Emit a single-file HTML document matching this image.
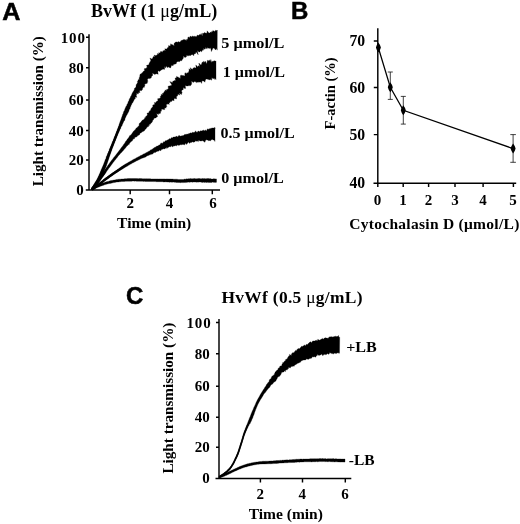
<!DOCTYPE html>
<html><head><meta charset="utf-8"><title>Figure</title>
<style>
html,body{margin:0;padding:0;background:#fff;}
body{width:520px;height:524px;overflow:hidden;}
svg{display:block;}
text{font-family:"Liberation Serif",serif;font-weight:bold;fill:#000;}
.pl{font-family:"Liberation Sans",sans-serif;font-weight:bold;font-size:24px;stroke:#000;stroke-width:0.5px;}
.t{font-size:18px;}
.k{font-size:15px;}
.l{font-size:15.5px;}
.mu{font-weight:normal;}
.ax{stroke:#000;stroke-width:1.45;fill:none;}
</style></head><body>
<svg width="520" height="524" viewBox="0 0 520 524">
<rect width="520" height="524" fill="#fff"/>
<!-- Panel A -->
<text class="pl" transform="translate(2.2,20.3) scale(1.05,1)">A</text>
<text class="t" x="90.9" y="17.2" textLength="126.3" lengthAdjust="spacing">BvWf (1 <tspan class="mu">μ</tspan>g/mL)</text>
<path class="ax" d="M89,34.2V190.6 M85.8,190H220 M86,37.3H89 M86,67.8H89 M86,100H89 M86,130.5H89 M86,160H89 M130.2,190V194.2 M169.5,190V194.2 M212.3,190V194.2"/>
<g class="k" text-anchor="end">
<text x="84.9" y="43" textLength="24.2" lengthAdjust="spacing">100</text>
<text x="83.8" y="73">80</text>
<text x="83.8" y="105">60</text>
<text x="83.8" y="135.5">40</text>
<text x="83.8" y="165">20</text>
<text x="83.8" y="194.5">0</text>
</g>
<g class="k" text-anchor="middle">
<text x="130.2" y="207.7">2</text>
<text x="169.5" y="207.7">4</text>
<text x="213" y="207.7">6</text>
</g>
<text class="l" x="154.2" y="228" text-anchor="middle">Time (min)</text>
<text class="l" transform="translate(42.8,186.2) rotate(-90)" textLength="150" lengthAdjust="spacingAndGlyphs">Light transmission (%)</text>
<g class="k">
<text x="221.3" y="48.4" textLength="63" lengthAdjust="spacingAndGlyphs">5 μmol/L</text>
<text x="222.8" y="77" textLength="62.3" lengthAdjust="spacingAndGlyphs">1 μmol/L</text>
<text x="220.5" y="138.2" textLength="74.2" lengthAdjust="spacingAndGlyphs">0.5 μmol/L</text>
<text x="221.2" y="182.8" textLength="62.6" lengthAdjust="spacingAndGlyphs">0 μmol/L</text>
</g>
<!-- Panel B -->
<text class="pl" x="290.9" y="18.8">B</text>
<path class="ax" d="M377.8,28.3V187 M373.5,183.2H516.2 M373.8,41H377.8 M373.8,87.5H377.8 M373.8,134.6H377.8 M403.2,183.2V187 M428.6,183.2V187 M455,183.2V187 M483.1,183.2V187 M513.4,183.2V187"/>
<g class="k" text-anchor="end" style="font-size:15.7px">
<text x="365.2" y="46">70</text>
<text x="365.2" y="92.7">60</text>
<text x="365.2" y="140.4">50</text>
<text x="365.2" y="188.3">40</text>
</g>
<g class="k" text-anchor="middle">
<text x="377.5" y="205">0</text>
<text x="403" y="205">1</text>
<text x="428.5" y="205">2</text>
<text x="455" y="205">3</text>
<text x="483" y="205">4</text>
<text x="513" y="205">5</text>
</g>
<text class="l" x="349.3" y="229.3" textLength="170" lengthAdjust="spacing">Cytochalasin D (μmol/L)</text>
<text class="l" transform="translate(335,129.4) rotate(-90)" textLength="72" lengthAdjust="spacingAndGlyphs">F-actin (%)</text>
<path d="M378.2,47.2 L390.3,87.2 L403.3,110.3 L513.1,148.6" stroke="#000" stroke-width="1.25" fill="none"/>
<path d="M390.3,72V99.4 M387.8,72H392.8 M387.8,99.4H392.8 M403.3,96.4V124.1 M400.8,96.4H405.8 M400.8,124.1H405.8 M513.1,134.6V162.3 M510.3,134.6H515.9 M510.3,162.3H515.9" stroke="#111" stroke-width="0.8" fill="none"/>
<path d="M378.4,42.6 Q380.3375,45.1 380.9,47.6 Q380.3375,50.1 378.4,52.6 Q376.4625,50.1 375.9,47.6 Q376.4625,45.1 378.4,42.6Z M390.3,82.2 Q392.2375,84.7 392.8,87.2 Q392.2375,89.7 390.3,92.2 Q388.3625,89.7 387.8,87.2 Q388.3625,84.7 390.3,82.2Z M403.3,105.3 Q405.2375,107.8 405.8,110.3 Q405.2375,112.8 403.3,115.3 Q401.3625,112.8 400.8,110.3 Q401.3625,107.8 403.3,105.3Z M513.1,143.6 Q515.0375,146.1 515.6,148.6 Q515.0375,151.1 513.1,153.6 Q511.1625,151.1 510.6,148.6 Q511.1625,146.1 513.1,143.6Z"/>
<!-- Panel C -->
<text class="pl" x="126" y="304">C</text>
<text class="t" style="font-size:17.4px" x="221.5" y="303.4" textLength="141" lengthAdjust="spacing">HvWf (0.5 <tspan class="mu">μ</tspan>g/mL)</text>
<path class="ax" d="M219,319V478.8 M215.5,478.4H351.3 M216,322.5H219 M216,353.8H219 M216,386.3H219 M216,417.3H219 M216,447.3H219 M260.4,478.4V482.5 M302.5,478.4V482.5 M345.3,478.4V482.5"/>
<g class="k" text-anchor="end">
<text x="210.7" y="327.5" textLength="24.2" lengthAdjust="spacing">100</text>
<text x="209.8" y="359">80</text>
<text x="209.8" y="391.3">60</text>
<text x="209.8" y="422.3">40</text>
<text x="209.8" y="452.3">20</text>
<text x="209.8" y="482.8">0</text>
</g>
<g class="k" text-anchor="middle">
<text x="260.2" y="499">2</text>
<text x="302.2" y="499">4</text>
<text x="345" y="499">6</text>
</g>
<text class="l" x="285.8" y="518.6" text-anchor="middle">Time (min)</text>
<text class="l" transform="translate(173.3,473.6) rotate(-90)" textLength="151" lengthAdjust="spacingAndGlyphs">Light transmission (%)</text>
<g class="k">
<text x="346.2" y="352.2" textLength="30.6" lengthAdjust="spacingAndGlyphs">+LB</text>
<text x="348.8" y="464.8" textLength="25.8" lengthAdjust="spacingAndGlyphs">-LB</text>
</g>
<g fill="#000" stroke="#000" stroke-width="0.3" stroke-linejoin="round">
<path d="M91.5,188.0 91.7,187.7 92.1,187.2 92.6,186.3 93.0,185.8 93.3,185.1 93.7,184.6 94.1,184.0 94.5,183.4 94.8,182.8 95.2,182.2 95.6,181.6 96.0,181.0 96.4,180.4 96.8,179.6 97.2,178.9 97.6,178.1 98.0,177.2 98.3,176.6 98.6,176.0 98.9,175.3 99.2,174.6 99.5,173.9 99.8,173.2 100.1,172.5 100.4,171.8 100.6,171.1 101.0,170.4 101.2,169.8 101.4,169.1 101.8,168.5 102.1,167.8 102.3,167.2 102.6,166.5 102.9,165.9 103.1,165.3 103.5,164.7 103.6,163.9 104.0,163.3 104.3,162.5 104.6,161.8 104.8,161.0 105.1,160.2 105.4,159.4 105.9,158.6 106.1,157.9 106.2,157.2 106.4,156.5 106.7,155.9 107.2,155.1 107.5,154.2 107.7,153.3 108.3,152.5 108.5,151.6 109.0,150.8 109.2,149.9 109.5,149.1 109.9,148.3 110.3,147.4 110.6,146.6 110.9,145.8 111.1,145.1 111.5,144.5 111.7,143.8 112.0,143.2 112.2,142.4 112.5,141.8 112.8,141.1 113.1,140.4 113.4,139.7 113.7,138.9 114.0,138.2 114.2,137.5 114.6,136.8 114.9,136.0 115.2,135.3 115.5,134.5 115.8,133.8 116.0,133.0 116.3,132.3 116.6,131.5 116.9,130.8 117.2,130.1 117.4,129.3 117.7,128.6 118.0,127.9 118.2,127.1 118.5,126.4 118.8,125.7 119.0,125.0 119.2,124.2 119.5,123.5 119.7,122.8 120.0,122.1 120.2,121.4 120.5,120.7 120.7,120.1 121.0,119.4 121.2,118.7 121.5,118.1 121.6,117.4 122.0,116.6 122.3,115.7 122.5,114.8 122.9,114.1 123.3,113.3 123.4,112.4 123.7,111.6 124.2,110.9 124.6,110.1 124.8,109.2 125.1,108.4 125.5,107.7 125.8,106.8 126.4,106.1 126.8,105.4 126.9,104.4 127.7,103.8 127.8,102.9 128.2,102.1 128.4,101.3 129.0,100.6 129.1,99.6 129.6,98.9 129.8,98.0 130.5,97.3 130.6,96.4 131.2,95.7 131.6,94.8 131.9,93.9 132.3,93.1 132.7,92.5 132.9,91.8 133.5,91.3 133.9,90.6 134.2,89.9 134.4,89.2 134.5,88.3 135.2,87.8 135.9,87.2 136.0,86.3 136.1,85.5 136.2,84.6 137.0,84.0 137.2,83.1 137.7,82.4 137.4,81.3 138.0,80.7 138.0,79.8 139.4,79.6 139.1,78.5 139.2,77.8 139.5,77.2 139.8,76.5 139.8,75.7 140.0,74.8 140.3,74.0 141.5,73.7 141.7,72.9 142.7,72.6 142.9,71.9 143.4,71.3 144.1,71.0 144.6,70.4 144.3,69.3 144.5,68.6 145.6,68.5 146.3,68.2 146.6,67.6 147.3,67.3 146.5,65.5 147.6,65.1 148.8,64.8 149.2,63.9 149.1,62.9 149.7,62.5 150.2,62.1 150.3,61.3 150.8,60.8 150.5,59.6 149.9,58.0 152.1,59.2 152.2,58.4 152.9,58.0 153.0,57.1 153.4,56.5 154.7,56.9 154.1,55.1 155.4,55.6 156.2,55.4 156.8,55.1 157.5,54.8 157.4,53.5 159.0,54.3 158.6,52.8 159.7,52.9 160.3,52.5 160.5,51.6 161.4,51.6 162.8,52.2 162.7,50.9 163.6,50.9 163.9,50.1 165.4,50.9 164.8,48.8 165.9,49.0 166.8,49.0 167.2,48.2 167.7,47.5 168.5,47.2 168.6,45.5 170.1,46.2 170.5,45.1 170.7,43.8 172.0,44.7 172.8,44.7 174.2,45.9 174.0,43.5 174.7,43.1 175.3,42.3 175.9,41.9 176.9,41.9 177.9,42.2 178.6,41.6 179.8,42.2 180.5,41.6 181.0,40.5 181.9,40.4 182.7,40.1 183.3,39.5 184.3,40.0 184.8,39.2 186.3,40.7 186.5,39.4 187.4,39.6 187.8,38.5 188.0,37.0 188.9,37.2 189.8,37.4 190.1,36.1 191.1,36.8 191.9,36.7 192.4,35.9 193.3,36.5 194.2,36.2 195.1,36.5 196.0,36.4 196.8,36.4 197.3,35.0 198.3,35.6 199.0,34.9 199.7,34.6 200.5,34.8 201.2,33.4 202.3,36.2 202.7,33.1 203.7,33.6 204.4,32.4 205.4,33.0 206.2,33.2 207.0,33.0 207.2,30.8 208.8,33.0 209.8,32.9 210.4,32.1 211.4,32.5 211.7,31.4 212.6,31.8 212.9,30.4 213.7,31.1 214.9,31.4 215.8,30.1 216.6,30.7 217.1,30.0 217.3,30.3 L217.2,50.2 217.1,49.6 216.7,48.6 215.6,50.0 214.7,48.8 213.6,47.9 212.9,48.2 212.2,49.8 211.4,51.6 210.9,49.0 210.2,47.8 209.5,48.4 208.6,48.2 207.5,47.5 207.0,49.1 205.7,47.3 205.3,48.9 204.6,49.3 203.6,48.3 203.4,50.2 202.6,49.8 202.1,51.0 201.5,51.8 200.3,50.8 199.8,51.9 198.9,51.9 197.4,50.6 198.2,54.8 196.0,51.7 195.7,53.2 195.0,54.0 194.0,53.7 193.8,55.7 192.4,54.6 191.5,54.7 190.8,55.4 189.9,55.4 189.1,55.5 188.4,55.8 187.6,55.8 186.6,55.3 186.4,56.8 185.7,57.3 184.9,57.4 183.3,55.9 183.4,58.1 183.0,58.7 182.4,59.2 182.1,60.0 181.7,60.8 180.7,60.6 180.0,61.0 179.5,61.7 178.2,61.4 177.2,61.7 176.5,62.5 176.2,63.8 175.2,64.0 174.3,64.3 173.4,64.5 173.1,65.8 171.7,65.2 171.2,66.0 170.9,67.4 170.1,67.9 168.5,66.8 167.9,67.7 165.9,65.9 166.0,68.1 164.6,66.6 164.7,68.5 164.4,69.5 163.1,69.0 162.1,69.4 161.4,70.1 160.5,70.5 159.9,71.4 158.4,70.8 157.8,71.8 158.2,74.3 156.7,73.7 155.7,74.0 154.8,74.4 152.3,72.9 152.8,75.1 152.2,76.0 151.4,76.6 151.2,77.9 150.4,78.2 149.7,78.6 148.4,78.4 147.6,78.9 147.4,79.8 148.0,81.5 147.1,81.6 147.5,82.9 147.0,83.4 146.0,83.5 145.4,84.0 144.6,84.3 145.0,85.7 144.3,86.1 144.5,87.2 143.4,87.3 142.8,87.9 142.6,88.6 142.5,89.5 141.9,90.0 141.5,90.7 140.1,90.5 139.4,91.0 140.1,92.4 138.8,92.4 138.3,92.9 138.4,93.9 136.3,93.2 136.8,94.5 136.3,95.2 136.3,96.0 136.9,97.3 135.3,97.1 135.2,97.9 135.3,98.8 134.5,99.1 134.2,99.8 134.0,100.5 133.4,101.1 133.1,102.0 132.7,102.8 131.9,103.5 131.8,104.4 131.0,105.0 131.1,106.1 130.5,106.8 130.2,107.6 130.1,108.5 129.5,109.2 129.1,110.0 129.0,110.9 128.6,111.7 128.2,112.5 127.8,113.3 127.3,114.1 127.0,114.9 126.4,115.6 126.0,116.5 125.7,117.4 125.1,117.9 125.1,118.7 124.9,119.4 124.8,120.2 124.3,120.8 123.7,121.4 123.5,122.1 123.2,122.8 122.8,123.5 122.4,124.2 122.3,125.1 121.9,125.8 121.4,126.4 121.0,127.1 120.7,127.9 120.6,128.7 120.1,129.3 119.8,130.1 119.4,130.8 119.2,131.6 118.8,132.3 118.4,133.0 118.1,133.8 117.8,134.5 117.5,135.3 117.2,136.0 116.9,136.7 116.6,137.5 116.3,138.2 116.0,138.9 115.7,139.7 115.5,140.4 115.2,141.1 114.9,141.8 114.7,142.4 114.4,143.1 114.1,143.8 113.9,144.4 113.6,145.1 113.4,145.8 113.1,146.6 112.7,147.4 112.4,148.2 112.1,149.1 111.8,149.9 111.5,150.8 111.2,151.6 110.9,152.5 110.6,153.3 110.3,154.2 110.0,155.1 109.7,155.9 109.4,156.8 109.1,157.7 108.8,158.6 108.5,159.4 108.3,160.2 108.0,161.0 107.7,161.8 107.5,162.5 107.3,163.3 107.0,164.0 106.7,164.6 106.6,165.4 106.2,166.3 105.8,167.2 105.6,167.9 105.2,168.5 105.0,169.2 104.6,169.8 104.3,170.5 104.1,171.2 103.9,172.0 103.1,172.5 103.1,173.4 102.6,174.1 102.1,174.8 101.7,175.6 101.3,176.3 101.0,177.0 100.6,177.6 100.3,178.2 100.1,178.9 99.7,179.5 99.3,180.3 98.8,181.1 98.4,181.8 98.0,182.5 97.5,183.1 97.2,183.8 96.8,184.5 96.4,185.2 96.0,185.9 95.6,186.6 95.1,187.2 94.7,187.9 94.4,188.5 94.1,189.0 93.7,189.7 93.5,190.0Z"/>
<path d="M91.5,188.0 91.7,187.8 92.2,187.2 92.8,186.5 93.2,186.0 93.7,185.5 94.1,184.9 94.6,184.4 95.1,183.8 95.5,183.2 96.0,182.6 96.5,181.9 97.0,181.2 97.5,180.6 98.0,179.8 98.6,179.0 99.0,178.4 99.4,177.8 99.8,177.2 100.2,176.6 100.7,176.0 101.1,175.3 101.6,174.6 102.0,173.9 102.5,173.2 103.0,172.4 103.5,171.6 104.0,170.8 104.5,170.3 104.9,169.6 105.3,169.0 105.8,168.4 106.2,167.7 106.8,167.0 107.2,166.4 107.7,165.7 108.2,165.0 108.8,164.3 109.3,163.5 109.8,162.8 110.3,162.1 110.8,161.4 111.3,160.7 111.8,160.0 112.3,159.4 112.9,158.7 113.4,158.1 113.8,157.4 114.4,156.8 114.9,156.2 115.4,155.5 115.9,154.9 116.3,154.3 116.8,153.7 117.3,153.1 117.8,152.4 118.3,151.8 118.7,151.2 119.2,150.6 119.6,150.0 120.1,149.4 120.5,148.8 121.0,148.2 121.4,147.6 121.9,147.0 122.3,146.4 122.8,145.8 123.3,145.2 123.6,144.6 124.0,144.0 124.5,143.4 124.9,142.8 125.3,142.2 125.6,141.5 126.0,140.9 126.6,140.4 127.0,139.8 127.3,139.1 127.9,138.7 128.3,138.1 128.7,137.4 129.3,136.9 129.3,136.0 129.9,135.6 130.7,135.3 131.0,134.6 131.7,134.2 132.0,133.5 132.4,132.8 132.9,132.3 133.3,131.6 133.7,131.0 134.3,130.5 135.0,130.0 135.4,129.4 135.8,128.7 136.3,128.1 137.0,127.7 137.6,127.1 138.0,126.4 138.8,126.0 139.2,125.3 139.1,124.2 139.4,123.3 140.1,122.9 140.7,122.3 141.2,121.6 141.9,121.1 142.1,120.2 143.4,120.1 143.7,119.3 144.6,118.9 144.6,117.8 145.6,117.5 145.7,116.5 146.5,116.0 147.1,115.4 147.4,114.4 147.1,113.1 148.3,112.9 149.0,112.3 149.2,111.4 149.7,110.8 150.6,110.4 150.8,109.5 151.0,108.7 151.6,108.1 152.0,107.4 152.6,106.9 153.0,106.2 152.7,105.1 153.7,104.8 154.6,104.5 154.7,103.7 154.3,102.6 156.0,102.8 156.0,101.9 156.5,101.4 157.4,101.1 158.0,100.6 157.7,99.5 157.8,98.6 159.2,98.7 159.6,98.1 160.6,97.9 160.1,96.6 160.9,96.2 161.2,95.4 161.1,94.4 162.7,94.7 162.3,93.4 163.4,93.3 163.8,92.4 164.2,91.6 165.3,91.3 164.9,90.0 166.6,90.4 166.6,89.4 167.8,89.2 168.4,88.4 168.2,87.3 168.1,86.2 169.2,86.0 170.1,85.7 171.1,85.5 171.9,85.0 169.8,81.6 172.0,82.4 172.9,82.2 172.8,81.2 173.7,81.1 174.2,80.6 175.2,80.7 175.5,80.0 175.0,78.4 175.6,78.0 176.3,77.9 176.5,76.4 178.3,77.2 180.4,78.4 180.3,76.5 180.5,75.4 181.3,75.2 182.5,75.6 183.3,75.6 184.5,76.0 184.9,75.4 184.8,73.9 185.0,72.7 186.6,73.7 186.9,72.7 188.1,73.1 188.4,72.2 188.8,71.4 189.1,70.6 188.9,68.8 190.6,70.2 190.2,67.7 192.3,69.6 192.8,68.6 193.5,68.0 194.2,67.5 195.5,68.0 196.1,67.4 195.8,64.9 197.8,66.9 198.2,65.7 199.6,66.5 198.8,63.0 200.8,65.0 201.4,64.4 201.8,63.2 202.2,62.0 203.2,62.4 203.5,61.3 204.9,62.6 205.0,61.0 206.9,63.7 207.1,62.0 207.4,60.3 208.5,60.7 209.4,59.9 210.3,61.4 210.8,59.5 211.7,62.4 212.2,61.5 213.2,61.2 214.1,60.9 214.9,60.7 215.4,61.2 215.8,61.0 216.0,60.9 L216.0,79.6 215.8,79.3 215.4,78.6 214.9,79.5 214.0,77.7 213.2,78.9 211.9,77.4 211.6,80.0 211.0,80.2 210.2,78.9 209.6,79.9 208.6,79.6 207.6,79.2 206.9,79.1 206.1,79.0 205.4,79.9 204.9,82.2 203.8,81.1 202.9,81.1 202.0,80.8 201.6,83.4 200.6,81.8 199.9,82.2 198.9,81.8 198.1,82.6 196.9,81.7 196.4,82.7 195.2,81.6 194.3,81.5 193.9,82.3 193.0,82.2 191.5,81.1 191.7,83.2 191.4,84.4 190.9,85.3 190.2,85.8 188.9,85.6 188.0,86.0 186.7,85.9 185.1,85.4 185.5,87.1 185.6,88.4 184.8,88.6 183.2,87.6 183.3,88.9 183.1,89.8 182.2,89.9 181.7,90.4 181.6,91.4 182.2,93.1 181.6,93.5 181.6,94.5 178.9,93.0 180.1,95.1 178.1,94.3 177.6,94.9 177.6,95.9 176.9,96.2 176.3,96.7 176.6,98.0 176.4,98.9 175.1,98.6 174.2,98.6 174.0,99.5 174.1,100.7 172.8,100.3 172.0,100.5 171.7,101.4 170.7,101.6 170.1,101.8 169.9,102.7 168.8,102.7 169.3,104.4 167.8,103.7 167.1,104.6 165.9,104.5 167.0,106.5 165.9,106.7 166.2,108.1 164.9,107.8 164.6,108.5 164.8,109.6 163.6,109.6 161.7,108.9 161.5,109.9 161.4,110.7 161.1,111.4 160.2,111.6 160.7,113.0 160.1,113.6 158.6,113.4 158.5,114.4 156.5,113.6 157.1,115.1 157.6,116.6 157.0,117.0 156.3,117.3 155.8,118.0 154.7,118.1 154.0,118.6 153.6,119.2 153.4,119.9 152.7,120.2 152.5,121.2 152.2,122.1 151.6,122.7 150.8,123.2 150.4,124.2 149.2,124.3 149.4,125.4 148.6,125.6 148.5,126.5 147.7,126.7 147.0,127.0 146.8,127.8 146.3,128.3 146.0,128.9 145.3,129.2 144.7,130.0 144.3,130.9 143.4,131.3 142.5,131.7 141.7,132.1 141.2,132.9 140.1,133.0 139.8,134.0 139.3,134.9 138.4,135.3 137.6,135.7 137.1,136.5 136.2,137.0 135.1,137.2 134.6,137.7 134.5,138.7 133.5,138.7 133.1,139.6 132.4,140.0 132.3,141.0 131.5,141.3 130.9,141.7 130.5,142.3 130.0,142.8 129.4,143.3 129.3,144.3 128.5,144.6 128.0,145.3 127.3,145.7 126.6,146.2 126.3,147.0 125.8,147.6 125.2,148.2 124.7,148.8 124.2,149.4 123.5,149.9 123.2,150.7 122.5,151.2 122.1,151.8 121.5,152.4 121.0,153.0 120.3,153.5 119.9,154.2 119.3,154.8 118.7,155.4 118.2,156.1 117.7,156.7 117.2,157.4 116.7,158.1 116.1,158.7 115.6,159.4 115.0,160.0 114.5,160.8 114.0,161.4 113.5,162.1 112.9,162.8 112.4,163.5 111.9,164.3 111.3,165.0 110.8,165.7 110.4,166.3 109.9,166.9 109.5,167.5 109.0,168.1 108.5,168.7 108.1,169.4 107.6,170.0 107.1,170.8 106.6,171.5 106.0,172.5 105.6,173.0 105.3,173.6 104.9,174.2 104.4,174.7 103.9,175.4 103.6,176.1 103.0,176.7 102.4,177.4 102.0,178.1 101.5,178.8 101.0,179.5 100.5,180.2 100.0,180.9 99.5,181.6 99.0,182.3 98.5,182.9 98.0,183.6 97.5,184.3 97.1,184.9 96.6,185.6 96.1,186.2 95.7,186.9 95.2,187.5 94.8,188.1 94.2,189.1 93.7,189.7 93.5,190.0Z"/>
<path d="M91.5,188.0 91.9,187.8 92.6,187.3 93.2,186.9 93.8,186.6 94.5,186.1 95.3,185.6 95.9,185.2 96.5,184.8 97.1,184.4 97.7,184.0 98.4,183.5 99.0,183.0 99.7,182.5 100.5,181.9 101.2,181.3 101.8,180.9 102.4,180.4 103.0,179.9 103.6,179.4 104.2,179.0 104.8,178.5 105.4,178.1 106.0,177.6 106.6,177.2 107.2,176.7 107.8,176.3 108.4,175.8 109.0,175.4 109.6,175.0 110.2,174.5 110.8,174.1 111.4,173.7 112.0,173.2 112.6,172.8 113.2,172.4 113.8,172.0 114.4,171.6 115.0,171.2 115.6,170.7 116.2,170.3 116.8,169.9 117.4,169.5 118.0,169.1 118.6,168.7 119.2,168.2 119.8,167.8 120.4,167.4 121.0,167.0 121.6,166.6 122.2,166.2 122.8,165.7 123.5,165.3 124.1,164.9 124.8,164.5 125.4,164.1 126.1,163.7 126.8,163.3 127.5,162.9 128.1,162.5 128.9,162.1 129.6,161.7 130.3,161.2 131.0,160.9 131.8,160.5 132.5,160.0 133.2,159.5 134.0,159.2 134.8,158.8 135.5,158.4 136.2,157.9 137.0,157.5 137.7,157.2 138.4,156.8 139.2,156.4 139.9,156.0 140.6,155.6 141.4,155.3 142.1,154.9 142.8,154.4 143.5,154.0 144.3,153.8 145.0,153.4 145.7,153.0 146.3,152.6 147.0,152.4 147.6,151.9 148.2,151.5 149.1,151.2 149.8,150.7 150.5,150.0 151.3,149.8 151.9,149.4 152.6,149.0 153.2,148.6 153.7,148.0 154.3,147.6 155.0,147.4 155.6,147.1 156.2,146.7 156.7,146.0 157.5,146.0 158.3,145.9 158.7,145.1 159.6,145.1 160.1,144.5 160.6,143.8 160.9,142.9 162.0,143.2 162.9,143.3 163.2,142.4 163.5,141.7 164.7,141.9 165.2,140.8 166.0,140.7 166.9,140.6 167.4,139.9 168.1,139.7 168.9,139.2 169.7,138.6 170.6,138.9 171.2,138.1 171.7,137.4 172.7,137.9 173.1,137.0 173.9,137.1 174.6,136.9 175.5,137.1 176.1,136.1 177.2,136.8 178.0,136.7 178.5,135.7 179.3,135.5 180.4,136.2 181.1,135.8 182.0,136.1 182.7,135.6 183.5,135.6 184.2,135.1 184.8,134.3 185.7,134.5 186.5,134.3 187.3,134.1 188.1,134.3 188.7,133.4 189.6,133.5 190.2,132.8 191.1,133.2 191.9,132.8 192.6,132.3 193.4,132.6 194.2,132.3 195.0,132.3 195.5,130.8 196.6,132.3 197.4,132.2 198.0,131.1 198.9,131.3 199.8,131.8 200.4,130.7 201.2,131.1 202.0,130.7 202.8,130.6 203.3,129.9 204.2,130.7 204.9,130.4 205.5,130.0 206.6,131.0 207.1,129.6 207.7,128.8 208.6,129.4 209.1,128.5 210.0,129.2 210.6,128.3 211.5,128.2 212.2,128.0 212.9,127.9 213.9,128.0 214.5,127.8 214.6,127.2 214.9,128.9 214.9,128.1 215.0,127.8 L215.0,141.4 214.9,141.4 214.6,140.4 214.3,140.3 213.8,140.0 213.0,140.1 212.2,139.3 210.9,140.3 210.2,140.9 209.5,140.4 208.7,140.7 207.7,139.9 207.0,140.3 206.2,139.5 205.5,140.6 204.9,142.3 203.9,141.5 202.9,140.8 202.0,140.7 201.3,141.0 200.5,141.0 199.6,140.8 198.7,140.3 198.2,141.7 197.2,140.8 196.5,141.3 195.6,140.8 195.0,141.7 194.2,142.0 193.5,142.3 192.6,141.8 191.9,142.3 191.1,142.4 190.3,142.4 189.6,143.4 188.6,142.1 187.9,142.8 187.3,143.6 186.6,144.5 185.6,143.1 185.0,144.6 184.3,144.8 183.4,144.4 182.6,144.4 181.8,144.5 181.1,145.1 180.2,144.5 179.5,145.2 178.8,145.5 177.8,144.8 177.1,145.5 176.4,145.8 175.5,145.5 174.7,145.9 173.8,145.7 173.1,146.6 172.2,146.8 171.0,145.4 170.7,146.9 169.7,146.5 169.0,147.3 168.0,147.1 167.7,148.2 166.7,147.3 166.3,148.5 165.3,148.0 164.8,149.0 163.7,148.7 162.8,149.1 162.0,149.5 161.2,149.5 160.9,150.9 159.9,150.1 159.3,150.6 158.7,151.0 158.1,151.3 157.3,151.2 156.7,151.4 156.2,152.0 155.3,152.4 154.2,152.5 153.4,153.1 152.7,153.9 152.0,154.2 151.2,154.2 150.6,154.6 149.7,154.8 149.0,155.3 148.2,155.5 147.5,155.7 146.9,156.1 146.3,156.4 145.7,156.9 145.0,157.2 144.3,157.4 143.6,157.7 142.8,157.9 142.1,158.3 141.4,158.5 140.7,158.8 140.1,159.2 139.4,159.6 138.7,159.8 138.1,160.2 137.4,160.5 136.8,160.8 136.1,161.1 135.5,161.5 134.8,161.7 134.3,162.2 133.6,162.5 133.0,162.8 132.4,163.1 131.7,163.6 131.0,164.0 130.2,164.3 129.6,164.8 128.9,165.1 128.3,165.5 127.5,166.1 126.6,166.5 125.9,166.9 125.2,167.3 124.4,167.8 123.7,168.2 122.9,168.7 122.2,169.2 121.4,169.6 120.7,170.1 119.9,170.6 119.1,171.1 118.5,171.5 117.9,171.9 117.4,172.3 116.7,172.7 116.0,173.1 115.4,173.6 114.7,174.1 113.9,174.6 113.2,175.1 112.6,175.5 112.0,175.9 111.4,176.3 110.8,176.7 110.2,177.1 109.6,177.6 109.0,178.0 108.4,178.4 107.8,178.9 107.2,179.3 106.6,179.7 106.0,180.2 105.4,180.6 104.8,181.1 104.2,181.5 103.6,182.0 103.0,182.4 102.4,182.9 101.8,183.4 101.2,183.8 100.5,184.4 99.8,184.9 99.1,185.4 98.5,185.9 97.9,186.3 97.3,186.8 96.6,187.3 95.9,187.9 95.3,188.3 94.7,188.7 93.9,189.4 93.3,189.8 93.0,190.0Z"/>
<path d="M92.0,187.9 92.5,187.7 93.5,187.2 94.2,186.8 95.0,186.5 95.6,186.1 96.3,185.8 96.9,185.5 97.6,185.2 98.2,184.9 98.9,184.6 99.5,184.3 100.2,184.1 100.8,183.8 101.4,183.6 102.0,183.3 102.7,183.1 103.6,182.8 104.5,182.4 105.5,182.1 106.4,181.8 107.3,181.6 108.3,181.4 109.2,181.1 110.1,180.8 111.0,180.6 112.0,180.4 112.9,180.3 113.9,180.1 114.8,179.9 115.7,179.8 116.6,179.6 117.6,179.4 118.5,179.3 119.4,179.2 120.3,179.2 121.2,179.1 122.1,179.0 122.9,179.0 123.7,178.9 124.5,178.8 125.3,178.7 126.1,178.7 126.9,178.7 127.6,178.6 128.4,178.6 129.2,178.5 130.1,178.5 130.9,178.5 131.7,178.6 132.5,178.5 133.3,178.5 134.0,178.5 134.7,178.5 135.6,178.5 136.5,178.6 137.4,178.6 138.2,178.7 139.0,178.6 139.8,178.5 140.6,178.6 141.4,178.6 142.1,178.7 142.9,178.7 143.6,178.8 144.4,178.7 145.1,178.8 145.9,178.8 146.6,178.7 147.4,178.8 148.1,178.8 148.9,178.8 149.6,178.8 150.4,178.8 151.1,178.9 151.9,179.0 152.6,178.9 153.4,178.9 154.1,178.9 154.9,178.9 155.6,178.9 156.4,178.9 157.1,178.9 157.9,178.9 158.6,179.0 159.4,178.9 160.2,178.9 161.1,178.9 162.0,179.0 162.8,178.9 163.6,178.9 164.4,178.9 165.2,179.0 165.9,179.1 166.6,178.9 167.3,178.9 168.0,179.0 168.8,179.0 169.6,179.0 170.4,179.0 171.3,179.1 172.0,179.1 172.8,179.1 173.5,179.2 174.2,179.3 174.8,179.2 175.5,179.2 176.4,179.2 177.3,179.3 178.0,179.4 178.7,179.6 179.5,179.6 180.3,179.5 181.1,179.4 181.9,179.5 182.8,179.5 183.6,179.4 184.5,179.1 185.4,179.2 186.1,179.1 186.7,178.8 187.4,178.9 188.2,178.8 189.0,178.7 189.8,178.7 190.7,178.5 191.6,178.8 192.5,178.7 193.2,178.7 194.0,178.5 194.7,178.6 195.5,178.7 196.3,178.7 197.1,178.8 198.0,178.6 198.8,178.6 199.7,178.5 200.6,178.7 201.5,178.7 202.3,178.5 203.1,178.5 203.9,178.7 204.7,178.5 205.4,178.7 206.2,178.7 207.0,178.6 207.8,178.6 208.7,178.6 209.5,178.7 210.3,178.6 211.1,178.9 211.9,179.0 212.6,179.1 213.4,178.7 214.1,178.9 214.8,178.7 215.5,178.9 216.5,178.9 L216.5,182.3 215.5,182.4 214.8,182.3 214.1,182.5 213.4,182.3 212.6,182.1 211.9,182.5 211.1,182.4 210.3,182.4 209.5,182.4 208.7,182.6 207.8,182.3 207.0,182.4 206.2,182.4 205.4,182.2 204.6,182.4 203.9,182.2 203.1,182.2 202.3,182.4 201.5,182.2 200.6,182.1 199.7,182.0 198.8,182.1 198.0,182.2 197.1,182.0 196.3,182.2 195.5,182.0 194.7,182.1 194.0,182.0 193.2,182.1 192.5,182.2 191.6,182.1 190.7,182.1 189.8,182.2 189.0,182.2 188.2,182.1 187.4,182.3 186.8,182.4 186.1,182.3 185.4,182.6 184.5,182.4 183.6,182.6 182.8,182.6 181.9,182.6 181.1,182.5 180.3,182.7 179.5,182.5 178.8,182.5 178.0,182.5 177.3,182.4 176.4,182.5 175.5,182.3 174.8,182.2 174.2,182.2 173.5,182.0 172.7,182.2 172.0,182.1 171.2,182.2 170.4,182.0 169.6,182.2 168.7,182.1 168.0,182.1 167.3,182.0 166.6,181.9 165.9,181.8 165.2,181.9 164.4,181.9 163.6,182.0 162.8,181.7 162.0,181.7 161.1,181.7 160.2,181.7 159.4,181.7 158.6,181.7 157.9,181.7 157.1,181.7 156.4,181.7 155.6,181.6 154.9,181.6 154.1,181.5 153.4,181.6 152.6,181.5 151.9,181.4 151.1,181.6 150.4,181.5 149.6,181.5 148.9,181.4 148.1,181.5 147.4,181.4 146.6,181.4 145.9,181.4 145.1,181.4 144.4,181.3 143.6,181.4 142.9,181.3 142.1,181.3 141.4,181.3 140.6,181.3 139.8,181.3 139.0,181.2 138.2,181.2 137.4,181.2 136.5,181.2 135.6,181.1 134.7,181.2 134.0,181.1 133.3,181.1 132.5,181.1 131.7,181.2 130.9,181.2 130.1,181.2 129.2,181.2 128.5,181.2 127.6,181.2 126.9,181.2 126.1,181.3 125.3,181.3 124.5,181.4 123.7,181.4 122.9,181.4 122.0,181.5 121.2,181.6 120.3,181.7 119.4,181.8 118.5,181.9 117.6,182.0 116.6,182.1 115.7,182.3 114.8,182.4 113.9,182.6 112.9,182.8 112.0,183.0 111.1,183.2 110.1,183.4 109.2,183.6 108.2,183.8 107.3,184.0 106.4,184.3 105.5,184.6 104.5,184.8 103.6,185.2 102.7,185.4 102.0,185.7 101.4,185.9 100.8,186.1 100.2,186.4 99.5,186.7 98.9,186.9 98.2,187.2 97.6,187.5 96.9,187.8 96.3,188.1 95.6,188.4 95.0,188.7 94.2,189.0 93.5,189.4 92.5,189.9 92.0,190.1Z"/>
<path d="M219.4,476.0 219.6,475.9 220.0,475.6 220.6,475.2 221.3,474.7 222.1,474.2 222.8,473.7 223.6,473.2 224.3,472.6 225.0,472.1 225.7,471.5 226.4,471.0 227.0,470.4 227.7,469.8 228.3,469.1 229.0,468.5 229.6,467.8 230.3,467.0 230.9,466.1 231.6,465.1 231.9,464.5 232.2,464.0 232.5,463.4 232.9,462.9 233.2,462.3 233.5,461.7 233.8,461.1 234.1,460.5 234.4,459.9 234.6,459.3 234.9,458.7 235.2,458.0 235.5,457.4 235.8,456.7 236.2,456.0 236.5,455.3 236.8,454.5 237.1,453.8 237.4,453.0 237.8,452.1 238.1,451.3 238.4,450.4 238.7,449.5 239.0,448.5 239.2,447.9 239.4,447.2 239.6,446.6 239.9,445.6 240.2,444.7 240.4,443.8 240.7,443.0 241.0,442.2 241.2,441.4 241.4,440.7 241.7,439.9 241.9,439.2 242.1,438.5 242.3,437.9 242.5,437.2 242.7,436.5 242.9,435.9 243.1,435.3 243.2,434.7 243.5,433.9 243.7,433.2 244.0,432.3 244.3,431.4 244.6,430.7 244.9,430.0 245.1,429.2 245.4,428.4 245.8,427.6 246.1,426.8 246.4,426.1 246.7,425.3 247.0,424.6 247.2,423.9 247.5,423.2 247.8,422.5 248.0,421.8 248.3,421.2 248.5,420.6 248.9,419.7 249.2,418.8 249.4,418.2 249.7,417.6 250.0,417.0 250.3,416.3 250.5,415.6 250.8,414.9 251.0,414.2 251.3,413.5 251.6,412.8 252.0,412.0 252.2,411.3 252.6,410.5 252.9,409.8 253.4,409.1 253.5,408.3 253.8,407.6 254.1,406.9 254.5,406.3 254.8,405.6 255.1,404.9 255.4,404.2 255.7,403.6 255.9,402.9 256.2,402.3 256.6,401.6 256.9,400.9 257.2,400.2 257.6,399.5 258.0,398.8 258.4,398.1 258.8,397.4 259.3,396.6 259.6,395.9 260.1,395.1 260.5,394.3 261.0,393.5 261.5,392.8 261.9,392.0 262.4,391.2 262.9,390.4 263.4,389.6 264.0,388.9 264.3,388.2 264.7,387.6 265.1,387.0 265.5,386.4 265.9,385.9 266.2,385.2 266.6,384.6 266.9,383.9 267.5,383.5 267.9,382.8 268.4,382.2 268.9,381.7 269.3,381.0 269.2,380.0 269.8,379.5 270.4,378.9 271.1,378.5 271.3,377.7 271.5,376.9 272.1,376.3 272.7,375.7 273.4,375.2 274.3,374.9 274.3,373.8 274.9,373.3 275.0,372.3 275.6,371.8 276.1,371.2 276.6,370.5 277.4,370.1 278.0,369.6 278.1,368.7 278.5,368.0 279.4,367.7 279.6,366.9 279.9,366.2 280.8,365.9 281.8,365.7 281.9,364.8 282.1,363.9 282.8,363.6 282.7,362.5 283.7,362.4 284.3,361.9 284.4,361.0 285.5,360.9 285.4,359.8 286.1,359.5 286.6,359.0 287.3,358.6 287.7,358.0 287.9,357.1 288.5,356.7 288.7,355.9 289.6,355.7 289.4,354.4 291.4,355.4 291.4,354.0 292.0,353.4 292.5,352.7 293.7,352.7 294.3,352.2 294.7,351.5 295.4,351.1 295.7,350.3 296.8,350.7 296.9,349.6 297.5,349.2 298.2,348.6 299.5,348.8 300.0,348.1 300.7,347.6 301.1,346.8 301.7,346.3 302.5,346.4 303.1,346.0 303.8,345.7 304.3,344.9 305.9,345.8 306.2,344.3 307.3,344.7 307.8,343.9 308.4,343.5 309.0,342.8 309.8,342.3 310.5,341.7 311.8,342.8 312.2,341.4 313.0,341.0 313.8,340.9 314.7,340.9 315.5,340.5 316.2,340.2 317.3,340.9 317.7,339.4 318.7,339.8 319.6,340.2 320.4,339.8 321.0,339.2 321.8,338.9 322.5,338.4 323.5,339.2 324.1,338.2 324.8,338.1 325.5,337.7 326.4,338.1 327.2,338.1 328.0,338.5 328.6,337.8 329.2,336.7 329.9,337.3 330.5,336.7 331.2,336.8 332.1,336.8 333.0,337.2 333.9,336.4 334.7,336.6 335.5,336.2 336.2,336.6 337.4,336.5 338.5,335.5 338.9,337.0 339.1,337.4 339.4,337.1 339.5,337.4 339.7,337.2 L339.5,353.4 339.1,352.3 338.4,353.3 337.2,352.8 336.5,353.4 335.7,353.6 334.9,353.0 334.0,353.6 333.1,354.1 332.0,353.3 331.3,353.6 330.6,353.1 329.8,352.4 329.1,354.1 328.3,354.2 327.4,353.6 326.7,354.3 325.9,354.8 325.0,354.3 324.2,354.5 323.5,354.8 322.8,355.8 321.7,354.0 321.0,354.7 320.2,355.0 319.5,355.3 318.7,355.4 317.6,354.2 317.1,355.8 316.2,355.8 315.8,357.2 314.8,356.7 314.0,356.8 313.2,357.0 312.2,356.8 311.7,358.0 311.0,358.4 310.0,358.3 309.3,358.7 308.6,359.3 307.8,359.3 306.8,358.8 306.2,359.2 305.5,360.0 304.4,359.9 303.6,360.0 302.8,360.3 302.2,360.5 301.6,360.7 301.1,361.2 300.6,361.7 300.1,362.6 299.3,362.6 298.6,363.1 297.7,363.2 296.9,363.7 296.2,364.4 295.4,364.7 294.6,365.1 294.2,366.3 293.0,365.9 292.4,366.5 291.3,366.5 290.7,367.1 290.3,368.0 288.6,367.2 288.5,368.6 287.5,368.9 287.2,370.1 286.1,369.8 285.5,370.3 285.6,371.5 284.1,370.8 284.0,371.9 283.1,372.0 282.3,372.2 281.5,372.5 281.3,373.5 280.9,374.2 280.6,375.0 280.0,375.5 279.6,376.3 278.5,376.4 278.1,377.2 277.2,377.5 277.2,378.6 276.7,379.3 276.2,380.1 275.9,381.0 275.1,381.4 274.3,382.0 273.7,382.6 273.0,383.2 272.6,384.1 271.7,384.4 270.8,384.9 270.5,385.9 270.0,386.6 269.5,387.4 268.8,388.1 268.1,388.7 267.6,389.5 266.9,390.0 266.5,390.9 265.9,391.6 265.4,392.4 264.6,392.9 264.2,393.7 263.6,394.4 263.2,395.3 262.8,396.0 262.3,396.8 261.9,397.5 261.4,398.2 261.0,398.9 260.5,399.6 260.1,400.3 259.8,401.0 259.4,401.6 259.0,402.3 258.7,402.9 258.3,403.6 258.0,404.2 257.6,405.0 257.3,405.7 257.0,406.5 256.6,407.3 256.3,408.2 255.9,409.0 255.6,409.8 255.4,410.5 255.1,411.2 254.8,411.9 254.5,412.7 254.3,413.6 254.0,414.4 253.7,415.2 253.3,415.9 253.1,416.6 252.9,417.4 252.6,418.1 252.3,418.7 252.0,419.3 251.7,420.0 251.5,420.7 251.1,421.4 250.7,422.1 250.4,422.9 250.1,423.6 249.6,424.1 249.1,424.7 248.9,425.5 248.5,426.1 248.1,426.8 247.8,427.5 247.4,428.2 247.1,428.9 246.7,429.7 246.4,430.4 246.1,431.2 245.8,432.0 245.4,432.8 245.1,433.6 244.9,434.2 244.6,434.9 244.3,435.6 244.0,436.5 243.7,437.4 243.5,438.2 243.2,438.9 243.1,439.5 242.9,440.1 242.7,440.7 242.5,441.3 242.3,442.0 242.1,442.7 241.9,443.3 241.7,444.0 241.4,444.7 241.2,445.5 241.0,446.2 240.7,447.0 240.4,447.8 240.2,448.7 239.9,449.5 239.6,450.4 239.3,451.4 239.0,452.3 238.7,453.2 238.4,454.0 238.1,454.8 237.8,455.6 237.4,456.4 237.1,457.1 236.8,457.8 236.5,458.5 236.2,459.1 235.8,459.8 235.5,460.4 235.2,461.0 234.9,461.5 234.6,462.1 234.4,462.7 234.1,463.2 233.8,463.7 233.5,464.3 233.2,464.8 232.9,465.3 232.5,465.8 232.2,466.4 231.9,466.9 231.6,467.4 230.9,468.3 230.3,469.2 229.6,469.9 229.0,470.6 228.3,471.3 227.7,471.9 227.0,472.5 226.4,473.1 225.7,473.7 225.0,474.2 224.3,474.7 223.6,475.2 222.8,475.8 222.1,476.3 221.3,476.8 220.6,477.3 220.0,477.6 219.6,477.9 219.4,478.0Z"/>
<path d="M219.4,475.8 219.9,475.6 220.9,475.2 221.6,474.9 222.3,474.6 223.0,474.3 223.6,474.1 224.3,473.8 224.9,473.5 225.6,473.2 226.3,472.9 226.9,472.6 227.6,472.3 228.3,472.0 229.0,471.6 229.7,471.3 230.4,471.0 231.1,470.6 231.8,470.2 232.5,469.9 233.2,469.5 233.9,469.2 234.6,468.9 235.4,468.5 236.1,468.2 236.8,467.9 237.5,467.5 238.2,467.3 238.9,466.9 239.6,466.6 240.4,466.3 241.1,466.0 241.8,465.8 242.5,465.5 243.2,465.2 243.9,465.0 244.7,464.8 245.4,464.5 246.1,464.3 246.8,464.1 247.5,463.8 248.2,463.7 249.0,463.5 249.7,463.3 250.4,463.2 251.1,463.0 251.8,462.8 252.5,462.7 253.3,462.5 254.0,462.4 254.7,462.3 255.4,462.2 256.1,462.1 256.8,462.0 257.6,461.9 258.3,461.8 259.0,461.7 259.7,461.6 260.4,461.6 261.1,461.5 261.8,461.4 262.6,461.3 263.3,461.2 264.0,461.3 264.7,461.3 265.4,461.2 266.1,461.2 266.8,461.2 267.6,461.2 268.3,461.2 269.0,461.1 269.8,461.1 270.6,461.0 271.3,460.9 272.1,461.0 273.0,461.0 273.7,460.8 274.6,460.8 275.4,460.7 276.3,460.6 277.1,460.6 277.9,460.5 278.7,460.5 279.6,460.4 280.4,460.3 281.2,460.4 282.0,460.3 282.9,460.1 283.7,460.2 284.5,460.1 285.3,459.9 286.2,459.9 287.0,459.8 287.8,459.9 288.6,460.0 289.4,459.7 290.3,459.8 291.1,459.7 291.9,459.7 292.7,459.6 293.6,459.5 294.4,459.4 295.2,459.4 296.0,459.3 296.8,459.2 297.7,459.3 298.5,459.2 299.3,459.2 300.1,459.1 300.9,459.0 301.8,459.1 302.6,459.2 303.4,459.0 304.2,459.1 305.1,459.1 305.9,459.0 306.7,459.0 307.5,459.0 308.3,459.0 309.2,459.0 310.0,458.7 310.8,458.8 311.6,458.8 312.4,458.8 313.3,458.8 314.1,458.8 314.9,458.7 315.7,458.8 316.6,458.8 317.4,458.7 318.2,458.7 318.9,458.7 319.7,458.6 320.5,458.6 321.3,458.7 322.1,458.6 322.9,458.6 323.6,458.7 324.4,458.7 325.1,458.5 325.9,458.8 326.6,458.9 327.4,458.8 328.1,458.7 329.0,458.7 329.8,458.8 330.6,458.7 331.5,458.8 332.3,458.8 333.1,458.6 333.9,458.8 334.7,458.9 335.5,458.8 336.3,458.8 337.1,458.9 337.9,459.0 338.8,458.9 339.7,458.9 340.5,458.9 341.4,459.1 342.2,459.1 343.0,459.0 343.8,459.1 345.0,459.0 L345.0,462.1 343.8,462.1 343.0,462.0 342.2,462.0 341.4,462.0 340.5,462.1 339.7,462.0 338.8,461.9 337.9,461.9 337.1,461.8 336.3,461.8 335.5,461.8 334.7,461.9 333.9,461.8 333.1,461.8 332.3,461.8 331.5,461.7 330.6,461.7 329.8,461.6 329.0,461.6 328.1,461.7 327.4,461.7 326.6,461.6 325.9,461.7 325.1,461.6 324.4,461.6 323.6,461.4 322.9,461.6 322.1,461.6 321.3,461.6 320.5,461.4 319.7,461.6 318.9,461.6 318.2,461.7 317.4,461.8 316.6,461.6 315.7,461.7 314.9,461.8 314.1,461.7 313.3,461.7 312.4,461.8 311.6,461.9 310.8,461.8 310.0,461.8 309.2,461.8 308.3,461.8 307.5,461.8 306.7,461.8 305.9,461.8 305.1,461.8 304.2,461.8 303.4,461.9 302.6,461.9 301.8,462.0 300.9,461.9 300.1,462.1 299.3,462.2 298.5,462.1 297.7,462.1 296.8,462.2 296.0,462.3 295.2,462.3 294.4,462.5 293.6,462.4 292.7,462.4 291.9,462.5 291.1,462.5 290.3,462.6 289.4,462.6 288.6,462.6 287.8,462.7 287.0,462.7 286.2,462.8 285.3,462.8 284.5,462.8 283.7,462.9 282.9,462.9 282.0,463.0 281.2,463.1 280.4,463.1 279.6,463.1 278.7,463.2 277.9,463.3 277.1,463.4 276.3,463.4 275.4,463.4 274.6,463.4 273.8,463.6 272.9,463.6 272.1,463.7 271.3,463.7 270.6,463.8 269.8,463.7 269.0,463.8 268.3,463.8 267.6,463.8 266.8,463.9 266.1,463.8 265.4,463.9 264.7,463.9 264.0,463.9 263.3,463.9 262.6,463.9 261.8,464.0 261.1,464.0 260.4,464.1 259.7,464.1 259.0,464.2 258.3,464.3 257.5,464.3 256.8,464.5 256.1,464.6 255.4,464.7 254.7,464.8 254.0,464.9 253.3,465.1 252.5,465.2 251.8,465.4 251.1,465.6 250.4,465.7 249.7,465.9 249.0,466.1 248.2,466.2 247.5,466.4 246.8,466.7 246.1,466.9 245.4,467.1 244.7,467.3 243.9,467.5 243.2,467.8 242.5,468.0 241.8,468.3 241.1,468.6 240.4,468.9 239.6,469.1 238.9,469.4 238.2,469.7 237.5,470.0 236.8,470.4 236.1,470.7 235.4,471.0 234.6,471.3 233.9,471.7 233.2,472.0 232.5,472.3 231.8,472.7 231.1,473.1 230.4,473.4 229.7,473.7 229.0,474.1 228.3,474.4 227.6,474.7 226.9,475.0 226.3,475.4 225.6,475.6 224.9,475.9 224.3,476.2 223.6,476.5 223.0,476.7 222.3,477.0 221.6,477.3 220.9,477.6 219.9,478.0 219.4,478.2Z"/>
<path d="M92.5,189.0 92.7,188.7 93.1,188.1 93.7,187.1 94.5,185.9 95.3,184.6 96.0,183.3 96.8,182.0 97.6,180.7 98.4,179.2 99.4,177.4 100.3,175.5 101.4,173.3 102.4,171.2 103.3,169.1 104.1,167.2 104.8,165.3 105.6,163.2 106.4,161.0 107.3,158.6 108.2,155.9 109.2,153.3 110.2,150.8 111.1,148.2 112.1,145.8 113.2,143.1 114.3,140.4 115.4,137.5 116.6,134.5 117.8,131.5 119.0,128.6 120.2,125.7 121.4,122.8 122.6,120.0 123.7,117.4 124.7,114.9 125.7,112.4 126.7,110.0 127.8,107.6 128.9,105.2 130.0,102.8 130.9,101.0 131.5,99.8 131.8,99.2" fill="none" stroke-width="2.2" stroke-linecap="round"/>
<path d="M92.5,189.0 92.7,188.7 93.2,188.2 93.8,187.3 94.7,186.2 95.6,185.0 96.5,183.8 97.5,182.4 98.5,181.1 99.5,179.6 100.7,178.0 101.8,176.4 103.0,174.6 103.9,173.3 104.5,172.4 104.8,172.0" fill="none" stroke-width="2.2" stroke-linecap="round"/>
<path d="M92.2,189.0 92.6,188.8 93.3,188.3 94.3,187.6 95.6,186.8 97.2,185.6 99.1,184.2 101.2,182.6 103.6,180.7 106.0,178.9 108.4,177.1 110.8,175.4 113.2,173.7 115.5,172.2 117.7,170.7 119.8,169.3 121.8,167.9 123.3,166.9 124.3,166.3 124.8,165.9" fill="none" stroke-width="2.1" stroke-linecap="round"/>
<path d="M219.4,477.0 219.6,476.9 220.0,476.6 220.6,476.2 221.3,475.8 222.1,475.2 222.8,474.7 223.6,474.2 224.3,473.7 225.0,473.1 225.7,472.6 226.4,472.0 227.0,471.5 227.7,470.9 228.3,470.2 229.0,469.6 229.6,468.9 230.3,468.1 230.9,467.2 231.6,466.2 232.2,465.2 232.9,464.1 233.5,463.0 234.1,461.9 234.6,460.7 235.2,459.5 235.8,458.2 236.5,456.9 237.1,455.4 237.8,453.9 238.4,452.2 239.0,450.4 239.6,448.5 240.2,446.7 240.7,445.0 241.2,443.4 241.7,442.0 242.1,440.6 242.5,439.3 242.9,438.0 243.2,436.8 243.7,435.3 244.3,433.5 245.1,431.4 246.1,429.0 246.8,427.2 247.3,426.0 247.5,425.4" fill="none" stroke-width="1.6" stroke-linecap="round"/>
</g>
</svg>
</body></html>
